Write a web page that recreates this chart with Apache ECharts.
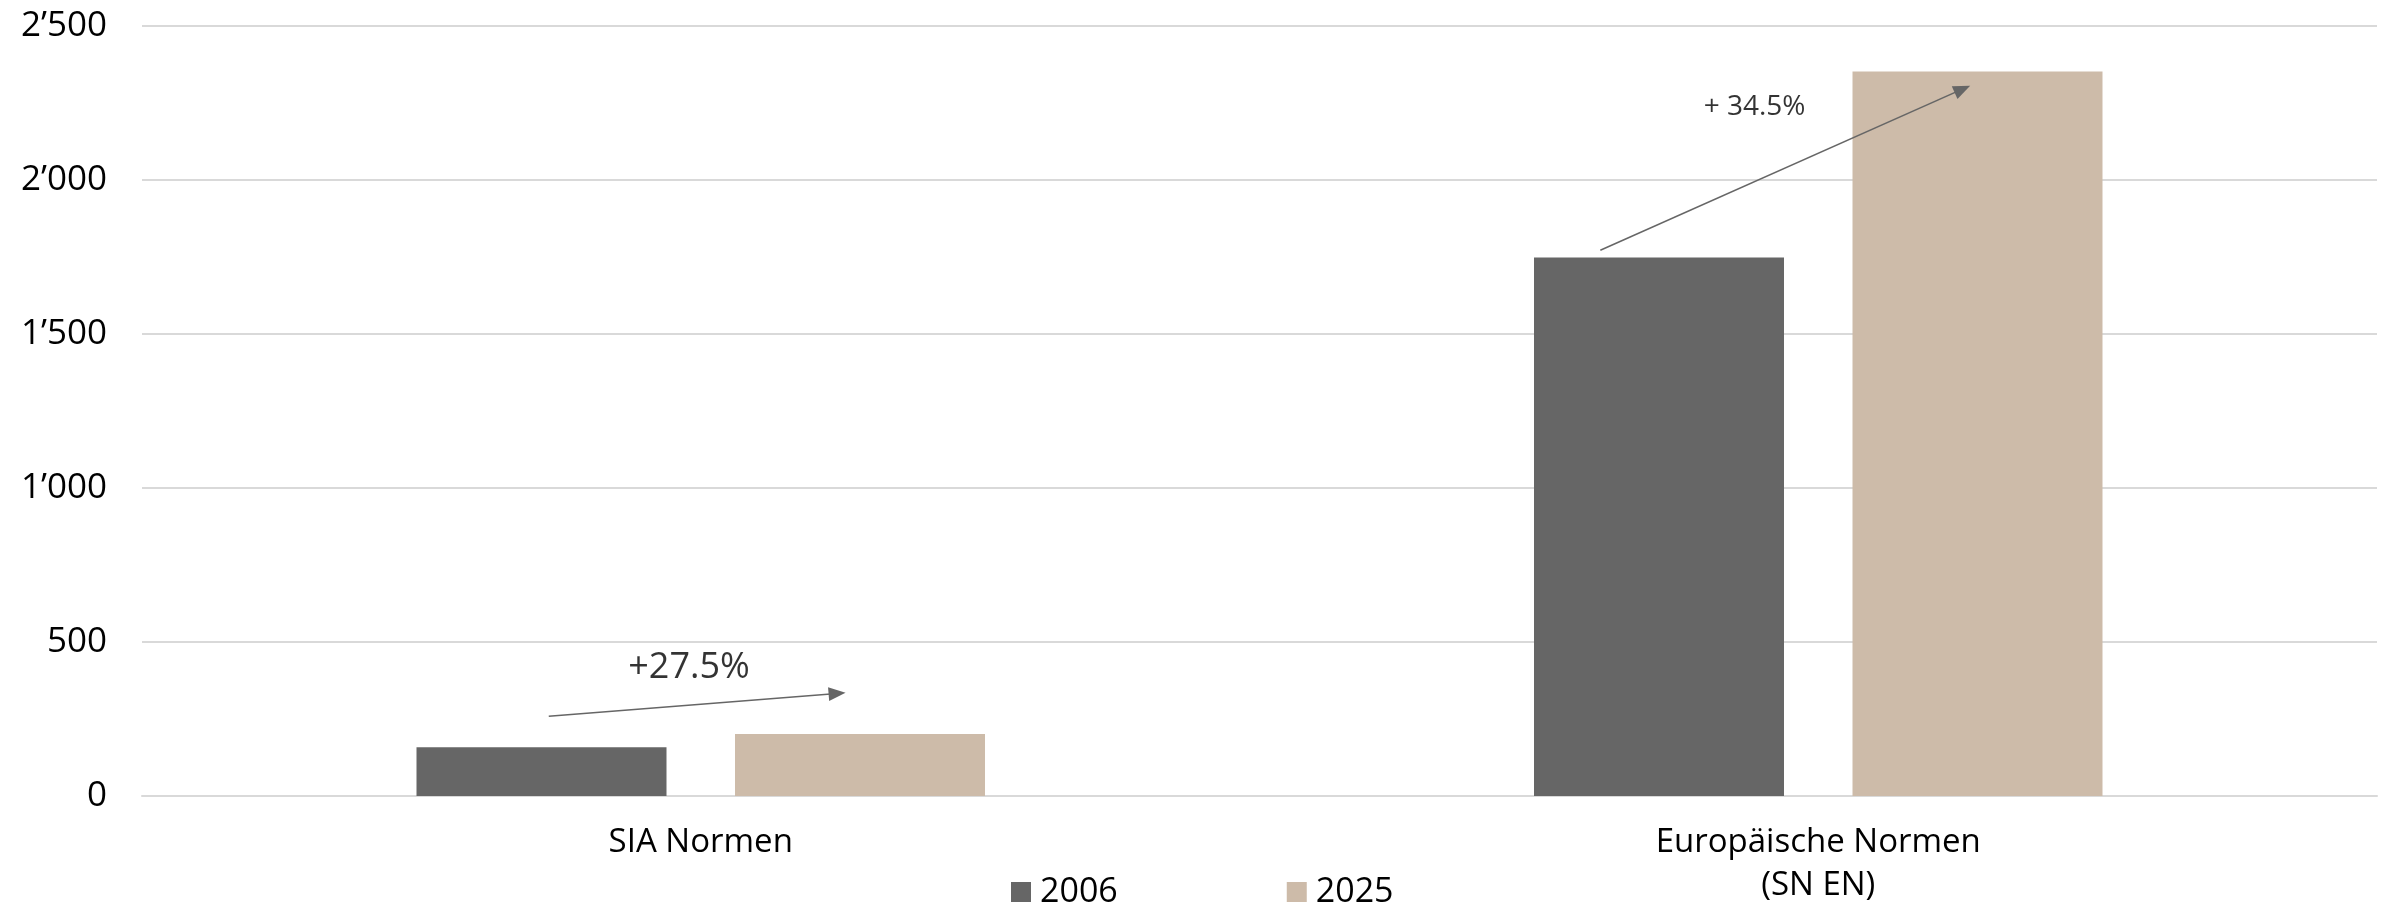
<!DOCTYPE html>
<html>
<head>
<meta charset="utf-8">
<script src="https://cdn.jsdelivr.net/npm/echarts@6/dist/echarts.min.js"></script>
<style>
html,body{margin:0;padding:0;background:#fff;}
#chart{width:2392px;height:907px;}
</style>
</head>
<body>
<div id="chart"></div>
<script>
// ---- data ----
const categories = ['SIA Normen', 'Europäische Normen\n(SN EN)'];
const seriesNames = ['2006', '2025'];
const values2006 = [158, 1748];
const values2025 = [201, 2352];
const yMin = 0, yMax = 2500, yStep = 500;
// annotations (x in category units: 0 = first category centre, 1 = second)
const annotationTexts = ['+27.5%', '+ 34.5%'];
const annotationX = [-0.0105, 0.943];
const annotationY = [418, 2238];
const arrowFrom = [[-0.136, 259], [0.805, 1772]];
const arrowTo = [[0.122, 333], [1.129, 2295]];

const FONT = '"Open Sans", "Noto Sans", sans-serif';
const colors = ['#666666', '#cdbba9'];

function fmt(v) {
  if (v >= 1000) {
    const th = Math.floor(v / 1000);
    const rest = String(v % 1000).padStart(3, '0');
    return th + '\u2019' + rest;
  }
  return String(v);
}

const chart = echarts.init(document.getElementById('chart'), null, {renderer: 'canvas'});
chart.setOption({
  animation: false,
  backgroundColor: '#ffffff',
  textStyle: {fontFamily: FONT},
  grid: {left: 142, right: 15, top: 26, bottom: 109, containLabel: false},
  legend: {
    data: seriesNames,
    left: 1006,
    top: 870,
    icon: 'rect',
    itemWidth: 20,
    itemHeight: 20,
    itemGap: 169,
    textStyle: {fontFamily: FONT, fontSize: 34, color: '#000', padding: [0, 0, 0, 4]}
  },
  xAxis: [
    {
      type: 'category',
      data: categories,
      axisTick: {show: false},
      axisLine: {show: true, lineStyle: {color: '#d9d9d9', width: 2}},
      axisLabel: {fontFamily: FONT, fontSize: 33, lineHeight: 43, color: '#000', margin: 25, interval: 0}
    },
    {
      type: 'value',
      min: -0.5,
      max: 1.5,
      show: false
    }
  ],
  yAxis: {
    type: 'value',
    min: yMin,
    max: yMax,
    interval: yStep,
    axisLine: {show: false},
    axisTick: {show: false},
    splitLine: {lineStyle: {color: '#d9d9d9', width: 2}},
    axisLabel: {fontFamily: FONT, fontSize: 35, color: '#000', margin: 35, formatter: fmt}
  },
  series: [
    {
      name: seriesNames[0],
      type: 'bar',
      data: values2006,
      barWidth: 250,
      barGap: '27.4%',
      itemStyle: {color: colors[0]}
    },
    {
      name: seriesNames[1],
      type: 'bar',
      data: values2025,
      barWidth: 250,
      barGap: '27.4%',
      itemStyle: {color: colors[1]}
    },
    {
      name: 'annotations',
      type: 'scatter',
      xAxisIndex: 1,
      symbolSize: 0,
      silent: true,
      data: annotationTexts.map((t, i) => ({
        value: [annotationX[i], annotationY[i]],
        label: {
          show: true,
          position: 'inside',
          formatter: t,
          fontFamily: FONT,
          fontSize: i === 0 ? 36 : 28,
          color: '#000'
        }
      })),
      markLine: {
        silent: true,
        symbol: ['none', 'triangle'],
        symbolSize: [14, 17],
        label: {show: false},
        lineStyle: {color: '#666666', width: 1.6, type: 'solid'},
        data: arrowFrom.map((f, i) => [
          {coord: f},
          {coord: arrowTo[i]}
        ])
      }
    }
  ]
});
</script>
</body>
</html>
